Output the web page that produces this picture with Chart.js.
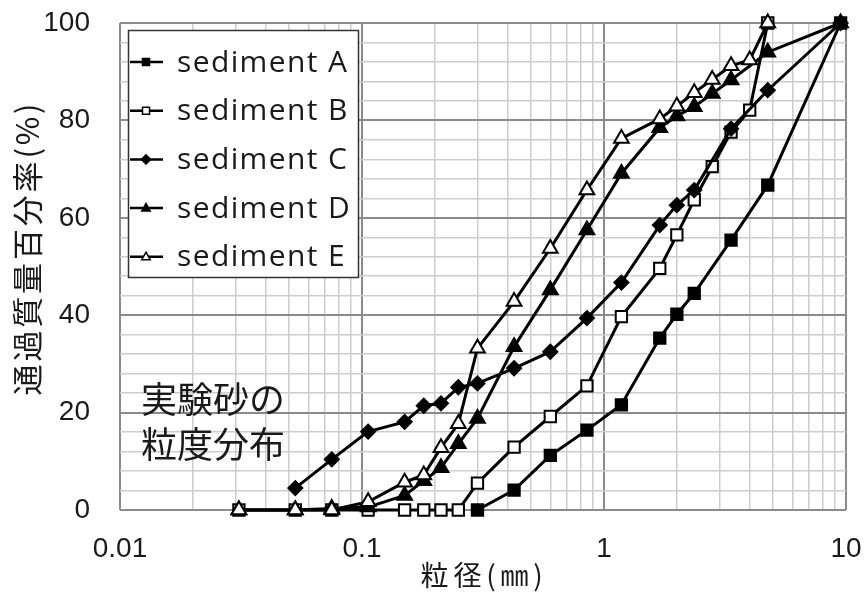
<!DOCTYPE html>
<html><head><meta charset="utf-8">
<script src="https://cdn.jsdelivr.net/npm/chart.js@4.4.1/dist/chart.umd.min.js"></script>
<style>html,body{margin:0;padding:0;background:#fff;}canvas{display:block}</style>
</head><body>
<canvas id="c" width="868" height="592"></canvas>
<script>
// ---- data ----
const seriesNames = ['sediment A','sediment B','sediment C','sediment D','sediment E'];

const sizeA = [0.3,0.425,0.6,0.85,1.18,1.7,2.0,2.36,3.35,4.75,9.5];
const passA = [0,4.1,11.2,16.4,21.6,35.3,40.2,44.5,55.4,66.7,100];

const sizeB = [0.031,0.053,0.075,0.106,0.15,0.18,0.212,0.25,0.3,0.425,0.6,0.85,1.18,1.7,2.0,2.36,2.8,3.35,4.0,4.75];
const passB = [0,0,0,0,0,0,0,0,5.5,12.9,19.2,25.5,39.7,49.6,56.5,63.7,70.5,77.6,82.1,100];

const sizeC = [0.053,0.075,0.106,0.15,0.18,0.212,0.25,0.3,0.425,0.6,0.85,1.18,1.7,2.0,2.36,3.35,4.75,9.5];
const passC = [4.5,10.4,16.1,18.1,21.4,21.9,25.2,26.0,29.1,32.5,39.4,46.7,58.5,62.6,65.7,78.3,86.2,100];

const sizeD = [0.031,0.053,0.075,0.106,0.15,0.18,0.212,0.25,0.3,0.425,0.6,0.85,1.18,1.7,2.0,2.36,2.8,3.35,4.75,9.5];
const passD = [0,0,0.3,0.6,3.0,6.0,8.7,13.6,18.8,33.5,45.2,57.5,69.1,78.5,80.9,82.8,85.5,88.3,94.0,100];

const sizeE = [0.031,0.053,0.075,0.106,0.15,0.18,0.212,0.25,0.3,0.425,0.6,0.85,1.18,1.7,2.0,2.36,2.8,3.35,4.0,4.75];
const passE = [0,0,0,1.7,5.7,7.2,12.8,17.7,33.2,42.8,53.7,65.7,76.3,80.3,82.9,85.7,88.4,91.2,92.4,100];

// ---- axes / ticks ----
const xGridValues = [0.01,0.02,0.03,0.04,0.05,0.06,0.07,0.08,0.09,
                     0.1,0.2,0.3,0.4,0.5,0.6,0.7,0.8,0.9,
                     1,2,3,4,5,6,7,8,9,10];
const xTickLabels = ['0.01','0.1','1','10'];
const yGridValues = [0,4,8,12,16,20,24,28,32,36,40,44,48,52,56,60,64,68,72,76,80,84,88,92,96,100];
const yTickLabels = ['0','20','40','60','80','100'];
const yTitle = '通過質量百分率(%)';
const xTitle = '粒径(㎜)';
const noteLines = ['実験砂の','粒度分布'];

// ---- styling ----
const INK = '#1a1a1a';
const MAJOR = '#8a8a8a', MINOR = '#cdcdcd';
const styles = [
  {pointStyle:'rect',     radius:8,   fill:'#000'},
  {pointStyle:'rect',     radius:8,   fill:'#fff'},
  {pointStyle:'rectRot',  radius:7,   fill:'#000'},
  {pointStyle:'triangle', radius:8.5, fill:'#000'},
  {pointStyle:'triangle', radius:8.5, fill:'#fff'}
];
const sizes = [sizeA,sizeB,sizeC,sizeD,sizeE];
const passes = [passA,passB,passC,passD,passE];

const datasets = seriesNames.map((name,i)=>({
  label: name,
  data: sizes[i].map((x,k)=>({x:x, y:passes[i][k]})),
  showLine: true,
  borderColor: '#000',
  borderWidth: 3,
  pointStyle: styles[i].pointStyle,
  pointRadius: styles[i].radius,
  pointBackgroundColor: styles[i].fill,
  pointBorderColor: '#000',
  pointBorderWidth: 2,
  order: seriesNames.length - i,
  clip: false,
  tension: 0
}));

function isDecade(v){ const l = Math.log10(v); return Math.abs(l-Math.round(l))<1e-9; }

function drawMarker(ctx, style, x, y, r, fill){
  ctx.beginPath();
  if (style==='rect'){ ctx.rect(x-r, y-r, 2*r, 2*r); }
  else if (style==='rectRot'){ ctx.moveTo(x, y-r*1.3); ctx.lineTo(x+r*1.3, y); ctx.lineTo(x, y+r*1.3); ctx.lineTo(x-r*1.3, y); ctx.closePath(); }
  else { const h=r*1.1; ctx.moveTo(x, y-h*1.2); ctx.lineTo(x+h*1.1, y+h*0.75); ctx.lineTo(x-h*1.1, y+h*0.75); ctx.closePath(); }
  ctx.fillStyle = fill; ctx.fill();
  ctx.lineWidth = 1.5; ctx.strokeStyle = '#000'; ctx.stroke();
}

function spacedFont(ctx, text, font, targetWidth){
  ctx.font = font;
  ctx.letterSpacing = '0px';
  const w = ctx.measureText(text).width;
  const n = Math.max(1, [...text].length - 1);
  const sp = (targetWidth - w)/n;
  ctx.letterSpacing = sp.toFixed(2)+'px';
}

const overlay = {
  id: 'overlay',
  afterDraw(chart){
    const ctx = chart.ctx;
    // legend box
    ctx.save();
    const bx=128.5, by=30.5, bw=230, bh=247;
    ctx.fillStyle='#fff'; ctx.fillRect(bx,by,bw,bh);
    ctx.lineWidth=1.5; ctx.strokeStyle='#333'; ctx.strokeRect(bx,by,bw,bh);
    const lfont = '30px "Open Sans"';
    spacedFont(ctx, seriesNames[0], lfont, 170);
    const ls = ctx.letterSpacing;
    chart.data.datasets.forEach((ds,i)=>{
      const y = 62 + i*48.7;
      ctx.lineWidth = 2.5; ctx.strokeStyle='#000';
      ctx.beginPath(); ctx.moveTo(130,y); ctx.lineTo(163,y); ctx.stroke();
      drawMarker(ctx, ds.pointStyle, 146, y, 3.5, ds.pointBackgroundColor);
      ctx.font = lfont; ctx.letterSpacing = ls;
      ctx.fillStyle = INK; ctx.textAlign='left'; ctx.textBaseline='middle';
      ctx.fillText(ds.label, 177, y+1);
    });
    ctx.restore();

    // y title
    ctx.save();
    ctx.translate(27, 248);
    ctx.rotate(-Math.PI/2);
    spacedFont(ctx, yTitle, '31px "Noto Sans CJK JP"', 292);
    ctx.fillStyle = INK; ctx.textAlign='center'; ctx.textBaseline='middle';
    ctx.fillText(yTitle, 0, 0);
    ctx.restore();

    // x title
    ctx.save();
    spacedFont(ctx, xTitle, '28px "Noto Sans CJK JP"', 122);
    ctx.fillStyle = INK; ctx.textAlign='center'; ctx.textBaseline='middle';
    ctx.fillText(xTitle, 484, 575);
    ctx.restore();

    // note
    ctx.save();
    ctx.font = '36px "Noto Sans CJK JP"';
    ctx.fillStyle = INK; ctx.textAlign='left'; ctx.textBaseline='middle';
    ctx.fillText(noteLines[0], 141, 399);
    ctx.fillText(noteLines[1], 141, 444);
    ctx.restore();
  }
};

new Chart(document.getElementById('c'), {
  type: 'scatter',
  data: { datasets },
  plugins: [overlay],
  options: {
    responsive: false,
    devicePixelRatio: 1,
    animation: false,
    events: [],
    layout: { padding: { left: 0, right: 22, top: 23, bottom: 0 } },
    plugins: { legend: { display: false }, tooltip: { enabled: false } },
    scales: {
      x: {
        type: 'logarithmic',
        min: 0.01, max: 10,
        afterBuildTicks: s => { s.ticks = xGridValues.map(v => ({value: v})); },
        afterFit: s => { s.height = 82; s.paddingLeft = 0; s.paddingRight = 0; s.paddingTop = 0; s.paddingBottom = 0; },
        ticks: {
          autoSkip: false, maxRotation: 0, minRotation: 0, padding: 22,
          font: { family: '"Liberation Sans", Arial, sans-serif', size: 28 },
          color: INK,
          callback: v => { if (!isDecade(v)) return ''; const s = String(+v.toPrecision(3)); return xTickLabels.includes(s) ? s : ''; }
        },
        grid: {
          drawTicks: false,
          color: c => isDecade(c.tick.value) ? MAJOR : MINOR,
          lineWidth: c => isDecade(c.tick.value) ? 2 : 1.5
        },
        border: { display: false }
      },
      y: {
        type: 'linear',
        min: 0, max: 100,
        afterBuildTicks: s => { s.ticks = yGridValues.map(v => ({value: v})); },
        afterFit: s => { s.width = 120; s.paddingLeft = 0; s.paddingRight = 0; s.paddingTop = 0; s.paddingBottom = 0; },
        ticks: {
          autoSkip: false, padding: 30,
          font: { family: '"Liberation Sans", Arial, sans-serif', size: 28 },
          color: INK,
          callback: v => yTickLabels.includes(String(v)) ? String(v) : ''
        },
        grid: {
          drawTicks: false,
          color: c => (c.tick.value % 20 === 0) ? MAJOR : MINOR,
          lineWidth: c => (c.tick.value % 20 === 0) ? 2 : 1.5
        },
        border: { display: false }
      }
    }
  }
});
</script>
</body></html>
